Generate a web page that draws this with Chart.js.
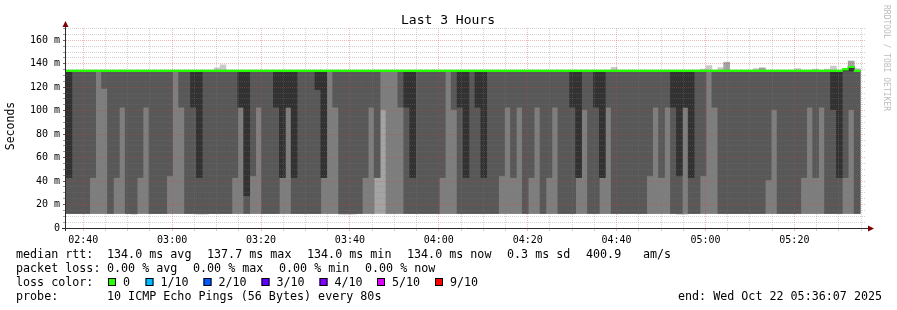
<!DOCTYPE html>
<html>
<head>
<meta charset="utf-8">
<script src="https://cdn.jsdelivr.net/npm/chart.js@4"></script>
<style>
  html, body { margin: 0; padding: 0; background: #fff; }
  canvas { display: block; }
</style>
</head>
<body>
<canvas id="smoke" width="897" height="310"></canvas>
<script>
// graph window in minutes after midnight: 02:36:07 .. 05:36:07, rrd step 80s
const startMin = 156 + 7 / 60;
const endMin = startMin + 180;
const stepMin = 80 / 60;

// x grid every 5 min, labels every 20 min
const timeGrid = [160,165,170,175,180,185,190,195,200,205,210,215,220,225,230,235,240,245,250,255,
  260,265,270,275,280,285,290,295,300,305,310,315,320,325,330,335];
const timeTicks = [160, 180, 200, 220, 240, 260, 280, 300, 320];
const timeLabels = ['02:40', '03:00', '03:20', '03:40', '04:00', '04:20', '04:40', '05:00', '05:20'];

// y grid every 5 ms, labels every 20 ms
const yGrid = [0,5,10,15,20,25,30,35,40,45,50,55,60,65,70,75,80,85,90,95,100,105,110,115,120,
  125,130,135,140,145,150,155,160,165,170];
const yTicks = [0, 20, 40, 60, 80, 100, 120, 140, 160];
const yLabels = ['0', '20 m', '40 m', '60 m', '80 m', '100 m', '120 m', '140 m', '160 m'];

// one entry per 80s step (ms); smoke layer k spans ping k .. ping 11-k
const pingBottom = [
  12.5,12.5,12.5,12.5,12.5,12.5,12.5,12.5,12.5,12.5,
  12.5,12.0,12.5,12.5,12.5,12.5,12.5,12.5,12.5,12.5,
  12.5,12.5,12.0,12.0,12.5,12.5,12.5,12.5,12.5,12.5,
  12.5,12.5,12.5,12.5,12.5,12.5,12.5,12.5,12.5,12.5,
  12.5,12.5,12.5,12.5,12.5,12.5,12.0,12.0,12.0,12.5,
  12.5,12.5,12.5,12.5,12.5,12.5,12.5,12.5,12.5,12.5,
  12.5,12.5,12.5,12.5,12.5,12.5,12.5,12.5,12.5,12.5,
  12.5,12.5,12.5,12.5,12.5,12.5,12.5,12.5,12.5,12.5,
  12.5,12.5,12.5,12.5,12.5,12.5,12.5,12.5,12.5,12.5,
  12.5,12.5,12.5,12.5,12.5,12.5,12.5,12.5,12.5,12.5,
  12.5,12.5,12.5,12.0,12.0,12.5,12.5,12.5,12.5,12.5,
  12.5,12.5,12.5,12.5,12.5,12.5,12.5,12.5,12.5,12.5,
  12.5,12.5,12.5,12.5,12.5,12.5,12.5,12.5,12.5,12.5,
  12.5,12.5,12.5,12.5
];
const topOuter = [
  134,134,134,134,134,134,134,134,134,134,
  134,134,134,134,134,134,134,134,134,134,
  134,134,134,134,134,136.5,139,134,134,134,
  134,134,134,134,134,134,134,134,134,134,
  134,134,134,134,134,134,134,134,134,134,
  134,134,134,134,134,134,134,134,134,134,
  134,134,134,134,134,134,134,134,134,134,
  134,134,134,134,134,134,134,134,134,134,
  134,134,134,134,134,134,134,134,134,134,
  134,134,137,134,134,134,134,134,134,134,
  134,134,134,134,134,134,134,135.5,138.5,134,
  136.7,141.5,134,134,134,134,136,136.5,134,134,
  134,134,134,136,134,134,135.4,134,135.4,138,
  134,135.3,142.5,136
];
const topInner = [
  134,134,134,134,134,134,134,134,134,134,
  134,134,134,134,134,134,134,134,134,134,
  134,134,134,134,134,134,134,134,134,134,
  134,134,134,134,134,134,134,134,134,134,
  134,134,134,134,134,134,134,134,134,134,
  134,134,134,134,134,134,134,134,134,134,
  134,134,134,134,134,134,134,134,134,134,
  134,134,134,134,134,134,134,134,134,134,
  134,134,134,134,134,134,134,134,134,134,
  134,134,134,134,134,134,134,134,134,134,
  134,134,134,134,134,134,134,134,134,134,
  134,141,134,134,134,134,134,136.3,134,134,
  134,134,134,134,134,134,134,134,134,134,
  134,135.3,142,134
];
const low3 = [
  12.5,12.5,12.5,12.5,12.5,12.5,12.5,12.5,12.5,12.5,
  12.5,12.5,12.5,12.5,12.5,12.5,12.5,12.5,12.5,12.5,
  12.5,12.5,12.5,12.5,12.5,12.5,12.5,12.5,12.5,12.5,
  12.5,12.5,12.5,12.5,12.5,12.5,12.5,12.5,12.5,12.5,
  12.5,12.5,12.5,12.5,12.5,12.5,12.5,12.5,12.5,12.5,
  12.5,12.5,43,101,12.5,12.5,12.5,12.5,12.5,12.5,
  12.5,12.5,12.5,12.5,12.5,12.5,12.5,12.5,12.5,12.5,
  12.5,12.5,12.5,12.5,12.5,12.5,12.5,12.5,12.5,12.5,
  12.5,12.5,12.5,12.5,12.5,12.5,12.5,12.5,12.5,12.5,
  12.5,12.5,12.5,12.5,12.5,12.5,12.5,12.5,12.5,12.5,
  12.5,12.5,12.5,12.5,12.5,12.5,12.5,12.5,12.5,12.5,
  12.5,12.5,12.5,12.5,12.5,12.5,12.5,12.5,12.5,12.5,
  12.5,12.5,12.5,12.5,12.5,12.5,12.5,12.5,12.5,12.5,
  12.5,12.5,12.5,12.5
];
const low4 = [
  12.5,12.5,12.5,12.5,43,134,119,12.5,43,103,
  12.5,12.5,43,103,12.5,12.5,12.5,44.5,134,103,
  12.5,12.5,12.5,12.5,12.5,12.5,12.5,12.5,43,103,
  12.5,44.5,103,12.5,12.5,12.5,43,103,12.5,12.5,
  12.5,12.5,12.5,43,134,103,12.5,12.5,12.5,12.5,
  43,103,43,134,134,134,103,12.5,12.5,12.5,
  12.5,12.5,12.5,43,134,101,12.5,12.5,12.5,12.5,
  12.5,12.5,12.5,44.5,103,43,103,12.5,43,103,
  12.5,43,103,12.5,12.5,12.5,43,101,12.5,12.5,
  43,103,12.5,12.5,12.5,12.5,12.5,12.5,44.5,103,
  43,103,12.5,12.5,103,12.5,12.5,44.5,134,103,
  12.5,12.5,12.5,12.5,12.5,12.5,12.5,12.5,41,101,
  12.5,12.5,12.5,12.5,43,103,43,103,12.5,12.5,
  12.5,43,101,12.5
];
const low5 = [
  43,134,134,134,134,134,134,134,134,134,
  134,134,134,134,134,134,134,134,134,134,
  134,103,43,134,134,134,134,134,134,103,
  27.5,134,134,134,134,103,43,103,43,134,
  134,134,118,43,134,134,134,134,134,134,
  134,134,134,134,134,134,134,103,43,134,
  134,134,134,134,134,134,103,43,134,103,
  43,134,134,134,134,134,134,134,134,134,
  134,134,134,134,134,103,43,134,134,103,
  43,134,134,134,134,134,134,134,134,134,
  134,134,103,44.5,103,43,134,134,134,134,
  134,134,134,134,134,134,134,134,134,134,
  134,134,134,134,134,134,134,134,134,101,
  43,134,134,134
];
const pingMedian = [
  134,134,134,134,134,134,134,134,134,134,
  134,134,134,134,134,134,134,134,134,134,
  134,134,134,134,134,134,134,134,134,134,
  134,134,134,134,134,134,134,134,134,134,
  134,134,134,134,134,134,134,134,134,134,
  134,134,134,134,134,134,134,134,134,134,
  134,134,134,134,134,134,134,134,134,134,
  134,134,134,134,134,134,134,134,134,134,
  134,134,134,134,134,134,134,134,134,134,
  134,134,134,134,134,134,134,134,134,134,
  134,134,134,134,134,134,134,134,134,134,
  134,134,134,134,134,134,134,134,134,134,
  134,134,134,134,134,134,134,134,134,134,
  134,135.3,137.3,134
];

// legend texts
const titleText = 'Last 3 Hours';
const yAxisTitle = 'Seconds';
const creditText = 'RRDTOOL / TOBI OETIKER';
const rttStats = ['134.0 ms avg', '137.7 ms max', '134.0 ms min', '134.0 ms now', '0.3 ms sd'];
const ampsValue = '400.9';
const ampsUnit = 'am/s';
const lossStats = ['0.00 % avg', '0.00 % max', '0.00 % min', '0.00 % now'];
const lossLabels = ['0', '1/10', '2/10', '3/10', '4/10', '5/10', '9/10'];
const lossColors = ['#26ff00', '#00b8ff', '#0059ff', '#5e00ff', '#7e00ff', '#dd00ff', '#ff0000'];
const probeText = '10 ICMP Echo Pings (56 Bytes) every 80s';
const endText = 'end: Wed Oct 22 05:36:07 2025';

const colTimes = pingMedian.map((m, i) => startMin + (i + 0.5) * stepMin);

function band(lows, highs) {
  return lows.map((lo, i) => ({ x: colTimes[i], y: [lo, highs[i]] }));
}

// smokeping greys, outer pair lightest
const smokeLayers = [
  { lows: pingBottom, highs: topOuter, color: '#cacaca' },
  { lows: pingBottom, highs: topInner, color: '#a4a4a4' },
  { lows: low3, highs: pingMedian, color: '#7e7e7e' },
  { lows: low4, highs: pingMedian, color: '#585858' },
  { lows: low5, highs: pingMedian, color: '#323232' }
];

const datasets = smokeLayers.map((l, k) => ({
  data: band(l.lows, l.highs),
  backgroundColor: l.color,
  order: 10 - k
}));
// median line, 2px thick
datasets.push({
  data: pingMedian.map((m, i) => ({ x: colTimes[i], y: [m - 0.57, m + 0.57] })),
  backgroundColor: lossColors[0],
  order: 1
});
const medianIndex = datasets.length - 1;

const minorGrid = 'rgba(120,120,120,0.32)';
const majorGrid = 'rgba(215,60,60,0.36)';
const mono = 'DejaVu Sans Mono';

function gridColor(v, every) {
  if (v === 0) return 'rgba(0,0,0,0)';
  return Math.abs(v % every) < 1e-6 ? majorGrid : minorGrid;
}

const frame = {
  id: 'frame',
  afterDraw(chart) {
    const ctx = chart.ctx;
    const a = chart.chartArea;
    // median goes on top of the grid
    chart.getDatasetMeta(medianIndex).data.forEach(el => el.draw(ctx));

    ctx.save();
    ctx.lineWidth = 1;
    ctx.strokeStyle = '#2c2c2c';
    ctx.beginPath();
    ctx.moveTo(a.left - 4, a.bottom + 0.5);
    ctx.lineTo(a.right + 3, a.bottom + 0.5);
    ctx.moveTo(a.left - 0.5, a.bottom + 3);
    ctx.lineTo(a.left - 0.5, a.top - 5);
    ctx.stroke();

    ctx.fillStyle = '#7f0000';
    ctx.beginPath();
    ctx.moveTo(a.left - 3.5, a.top - 1);
    ctx.lineTo(a.left + 2.5, a.top - 1);
    ctx.lineTo(a.left - 0.5, a.top - 7);
    ctx.fill();
    ctx.beginPath();
    ctx.moveTo(a.right + 2, a.bottom - 2.5);
    ctx.lineTo(a.right + 2, a.bottom + 3.5);
    ctx.lineTo(a.right + 8, a.bottom + 0.5);
    ctx.fill();

    ctx.fillStyle = '#000';
    ctx.textBaseline = 'alphabetic';
    ctx.textAlign = 'center';
    ctx.font = '13px "' + mono + '"';
    ctx.fillText(titleText, 448, 24);

    ctx.save();
    ctx.translate(11, 126);
    ctx.rotate(-Math.PI / 2);
    ctx.textBaseline = 'middle';
    ctx.font = '11.5px "' + mono + '"';
    ctx.fillText(yAxisTitle, 0, 0);
    ctx.restore();

    ctx.save();
    ctx.translate(886, 5);
    ctx.rotate(Math.PI / 2);
    ctx.textAlign = 'left';
    ctx.textBaseline = 'middle';
    ctx.fillStyle = '#bdbdbd';
    ctx.font = '8px "' + mono + '"';
    ctx.fillText(creditText, 0, 0);
    ctx.restore();

    // legend block
    ctx.textAlign = 'left';
    ctx.font = '11.7px "' + mono + '"';
    ctx.fillText('median rtt:', 16, 258);
    const rttX = [107, 207, 307, 407, 507];
    rttStats.forEach((s, i) => ctx.fillText(s, rttX[i], 258));
    ctx.fillText(ampsValue, 586, 258);
    ctx.fillText(ampsUnit, 643, 258);

    ctx.fillText('packet loss:', 16, 272);
    lossStats.forEach((s, i) => ctx.fillText(s, 107 + i * 86, 272));

    ctx.fillText('loss color:', 16, 286);
    const boxX = [108, 145.5, 203.5, 261.5, 319.5, 377, 435];
    lossLabels.forEach((s, i) => {
      ctx.fillStyle = lossColors[i];
      ctx.fillRect(boxX[i], 278, 8, 8);
      ctx.strokeStyle = '#000';
      ctx.strokeRect(boxX[i] + 0.5, 278.5, 7, 7);
      ctx.fillStyle = '#000';
      ctx.fillText(s, boxX[i] + 15, 286);
    });

    ctx.fillText('probe:', 16, 300);
    ctx.fillText(probeText, 107, 300);
    ctx.fillText(endText, 678, 300);
    ctx.restore();
  }
};

new Chart(document.getElementById('smoke'), {
  type: 'bar',
  data: { datasets: datasets },
  options: {
    responsive: false,
    animation: false,
    devicePixelRatio: 1,
    events: [],
    layout: { padding: { left: 0, right: 31, top: 28, bottom: 0 } },
    datasets: {
      bar: { barPercentage: 1, categoryPercentage: 1, grouped: false, borderWidth: 0 }
    },
    plugins: {
      legend: { display: false },
      title: { display: false },
      tooltip: { enabled: false }
    },
    scales: {
      x: {
        type: 'linear',
        min: startMin,
        max: endMin,
        offset: false,
        afterFit: s => { s.height = 82; },
        afterBuildTicks: s => { s.ticks = timeGrid.map(v => ({ value: v })); },
        ticks: {
          autoSkip: false,
          maxRotation: 0,
          padding: 3,
          color: '#000',
          font: { family: mono, size: 10 },
          callback: v => {
            const i = timeTicks.indexOf(v);
            return i < 0 ? '' : timeLabels[i];
          }
        },
        grid: {
          z: 1,
          offset: false,
          lineWidth: 1,
          tickLength: 3,
          color: c => gridColor(c.tick ? c.tick.value : 1, 20),
          tickColor: c => gridColor(c.tick ? c.tick.value : 1, 20)
        },
        border: { display: false, dash: [1, 1] }
      },
      y: {
        min: 0,
        max: 170.5,
        afterFit: s => { s.width = 66; },
        afterBuildTicks: s => { s.ticks = yGrid.map(v => ({ value: v })); },
        ticks: {
          autoSkip: false,
          padding: 3,
          color: '#000',
          font: { family: mono, size: 10 },
          callback: v => {
            const i = yTicks.indexOf(v);
            return i < 0 ? '' : yLabels[i];
          }
        },
        grid: {
          z: 1,
          lineWidth: 1,
          tickLength: 3,
          color: c => gridColor(c.tick ? c.tick.value : 1, 20),
          tickColor: c => c.tick && c.tick.value % 20 === 0 ? 'rgba(60,60,60,0.8)' : 'rgba(90,90,90,0.6)'
        },
        border: { display: false, dash: [1, 1] }
      }
    }
  },
  plugins: [frame]
});
</script>
</body>
</html>
